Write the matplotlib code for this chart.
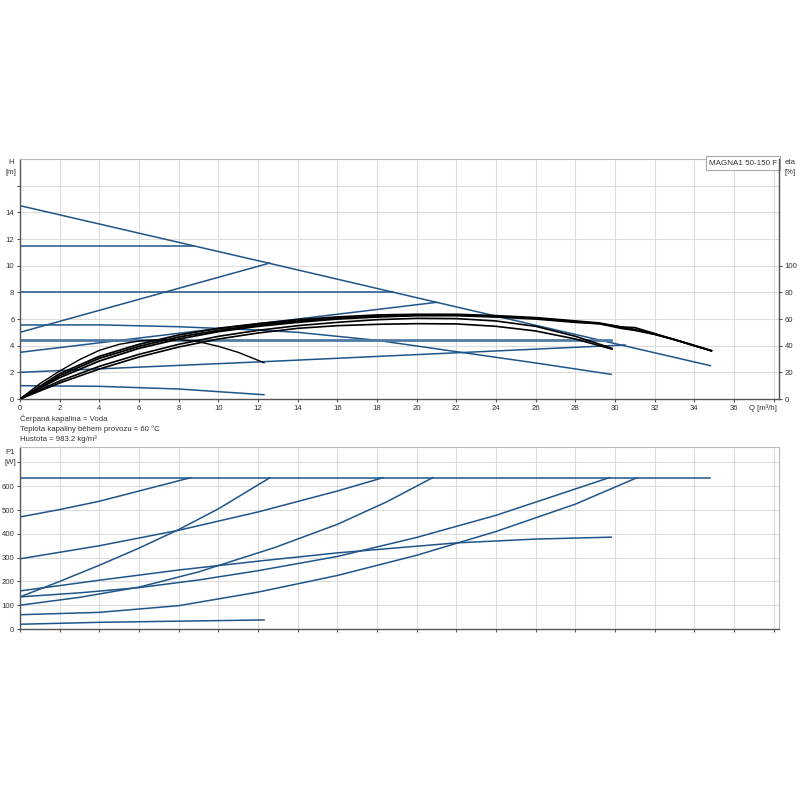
import matplotlib
matplotlib.use("Agg")

import matplotlib.pyplot as plt

plt.rcParams["font.family"] = ["Liberation Sans", "DejaVu Sans"]

# ---- QH curves (blue), Q in m3/h, H in m
q_max = [0, 12.5, 21, 34.8]
h_max = [14.5, 10.2, 7.25, 2.5]

q_cp1 = [0, 8.7]
h_cp1 = [11.5, 11.5]
q_pp1 = [0, 12.6]
h_pp1 = [5.0, 10.2]
q_cp2 = [0, 18.8]
h_cp2 = [8.0, 8.0]
q_pp2 = [0, 21]
h_pp2 = [3.5, 7.25]
q_auto = [0, 4, 8, 12, 14, 18, 22, 26, 29.8]
h_auto = [5.55, 5.56, 5.42, 5.17, 5.0, 4.4, 3.55, 2.7, 1.85]
q_cp3 = [0, 29.8]
h_cp3 = [4.42, 4.42]
q_pp3 = [0, 12.3, 30.5]
h_pp3 = [2.0, 2.8, 4.05]
q_min = [0, 4, 8, 12.3]
h_min = [1.0, 0.95, 0.75, 0.32]

# ---- efficiency curves (black), eta in %
q_e1 = [0, 1, 2, 3, 4, 5, 6, 7, 8, 9, 10, 11, 12.3]
e_e1 = [0, 11.5, 21, 29.5, 36.5, 41, 43.5, 44.5, 44.5, 43, 39.5, 35, 27.2]
q_e2 = [0, 2, 4, 6, 8, 10, 12, 14, 16, 18, 20, 22, 24, 26, 28, 29.84]
e_e2 = [0, 12, 22.5, 31.5, 39, 45, 49.5, 53, 55, 56, 56.5, 56.3, 54.5, 51, 45, 37.4]
e_e3 = [0, 13.5, 24.5, 33.5, 41, 47, 51.5, 55, 57.5, 59.5, 60.5, 60.3, 58.5, 54.5, 47, 38.0]
q_e4 = [0, 2, 4, 6, 8, 10, 12, 14, 16, 18, 20, 22, 24, 26, 28, 29.2, 30.3, 31, 32, 33, 34.85]
e_e4 = [0, 17.5, 30.5, 39.5, 46.5, 51.5, 55.5, 58.5, 60.5, 62, 63, 63, 62, 60.5, 58, 56.5, 54, 52, 48.5, 44.5, 36.2]
e_e5 = [0, 16, 28.5, 38, 45, 50.5, 54.5, 57.5, 60, 61.5, 62.5, 62.5, 61.5, 60, 57.5, 56.5, 53, 51.5, 48.5, 44.5, 36.2]
e_e6 = [0, 19, 32, 41, 48, 53, 56.5, 59.5, 61.5, 63, 63.5, 63.5, 62.5, 61, 58.5, 57, 54, 53.5, 49, 44.5, 36.2]

# ---- P1 curves (blue), W
q_pmax = [0, 34.8]
p_pmax = [636, 636]
q_pa = [0, 2, 4, 6, 8.6]
p_pa = [471, 502, 537, 580, 636]
q_pb = [0, 2, 4, 6, 8, 10, 12.6]
p_pb = [135, 200, 268, 340, 418, 505, 636]
q_pc = [0, 4, 8, 12, 16, 18.3]
p_pc = [295, 350, 415, 492, 580, 636]
q_pd = [0, 3, 6, 9, 12.86, 16, 18.5, 20.8]
p_pd = [100, 133, 176, 240, 343, 440, 535, 636]
q_pe = [0, 4, 8, 12.1, 16, 22, 26, 29.8]
p_pe = [160, 205, 248, 286, 320, 362, 378, 386]
q_pf = [0, 3, 6, 9, 12, 16, 20, 24, 29.7]
p_pf = [135, 152, 174, 206, 245, 305, 385, 478, 636]
q_pg = [0, 4, 8, 12, 16, 20, 24, 28, 31.1]
p_pg = [60, 70, 98, 155, 225, 310, 410, 525, 636]
q_ph = [0, 4, 8, 12.3]
p_ph = [20, 28, 33, 38]

x_ticks = list(range(0, 38, 2))
h_ticks = list(range(0, 16, 2))
eta_ticks = [0, 20, 40, 60, 80, 100]
p_ticks = [0, 100, 200, 300, 400, 500, 600]

info = ["Čerpaná kapalina = Voda",
        "Teplota kapaliny během provozu = 60 °C",
        "Hustota = 983.2 kg/m³"]

blue = "#1f5588"
grid_c = "#dcdcdc"
dark = "#555555"
txt = "#333333"
fs = 5.6

fig = plt.figure(figsize=(8, 8), dpi=100)
ax1 = fig.add_axes([0.025, 0.50125, 0.949, 0.30])
ax2 = fig.add_axes([0.025, 0.21375, 0.949, 0.2275])


def style(ax, ymax, ygrid):
    ax.set_xlim(0, 38.27)
    ax.set_ylim(0, ymax)
    ax.set_xticks(list(range(0, 40, 2)))
    ax.set_yticks(ygrid)
    ax.grid(True, color=grid_c, lw=0.8)
    ax.set_axisbelow(True)
    for s in ["top", "right"]:
        ax.spines[s].set_color("#bbbbbb")
        ax.spines[s].set_linewidth(0.8)
    for s in ["left", "bottom"]:
        ax.spines[s].set_color(dark)
        ax.spines[s].set_linewidth(1.0)
    ax.tick_params(length=2.5, width=0.8, color=dark, labelsize=fs, labelcolor=txt, pad=1.5)


# top chart
style(ax1, 18, list(range(0, 18, 2)))
ax1.set_xticklabels([str(v) if v in x_ticks else "" for v in range(0, 40, 2)])
ax1.set_yticklabels([str(v) if v in h_ticks else "" for v in range(0, 18, 2)])

for q, h in [(q_max, h_max), (q_cp1, h_cp1), (q_pp1, h_pp1), (q_cp2, h_cp2),
             (q_pp2, h_pp2), (q_auto, h_auto), (q_pp3, h_pp3), (q_min, h_min)]:
    ax1.plot(q, h, color=blue, lw=1.1)
ax1.plot(q_cp3, h_cp3, color="#4f7ba3", lw=2.0)

ax_eta = ax1.twinx()
ax_eta.set_ylim(0, 180)
ax_eta.set_yticks(eta_ticks)
ax_eta.tick_params(length=2.5, width=0.8, color=dark, labelsize=fs, labelcolor=txt, pad=1.5)
ax_eta.spines["right"].set_color(dark)
ax_eta.spines["right"].set_linewidth(1.0)
for s in ["top", "left", "bottom"]:
    ax_eta.spines[s].set_visible(False)

ax_eta.plot(q_e1, e_e1, color="black", lw=1.0)
ax_eta.plot(q_e2, e_e2, color="black", lw=1.2)
ax_eta.plot(q_e2, e_e3, color="black", lw=1.2)
ax_eta.plot(q_e4, e_e4, color="black", lw=1.3)
ax_eta.plot(q_e4, e_e5, color="black", lw=1.3)
ax_eta.plot(q_e4, e_e6, color="black", lw=1.3)

ax1.text(0.997, 0.997, "MAGNA1 50-150 F", transform=ax1.transAxes, ha="right", va="top",
         fontsize=fs + 0.2, color=txt, zorder=10,
         bbox=dict(boxstyle="square,pad=0.4", fc="white", ec="#aaaaaa", lw=0.8))

# bottom chart
style(ax2, 765, list(range(0, 800, 100)))
ax2.set_xticklabels([])
ax2.set_yticklabels([str(v) if v in p_ticks else "" for v in range(0, 800, 100)])
for q, p in [(q_pmax, p_pmax), (q_pa, p_pa), (q_pb, p_pb), (q_pc, p_pc), (q_pd, p_pd),
             (q_pe, p_pe), (q_pf, p_pf), (q_pg, p_pg), (q_ph, p_ph)]:
    ax2.plot(q, p, color=blue, lw=1.1)

# axis captions
fig.text(11 / 800, 1 - 163 / 800, "H", fontsize=fs, color=txt, ha="center", va="center")
fig.text(11 / 800, 1 - 173 / 800, "[m]", fontsize=fs, color=txt, ha="center", va="center")
fig.text(790 / 800, 1 - 163 / 800, "eta", fontsize=fs, color=txt, ha="center", va="center")
fig.text(790 / 800, 1 - 173 / 800, "[%]", fontsize=fs, color=txt, ha="center", va="center")
fig.text(763 / 800, 1 - 408 / 800, "Q [m³/h]", fontsize=fs, color=txt, ha="center", va="center")
fig.text(10 / 800, 1 - 453 / 800, "P1", fontsize=fs, color=txt, ha="center", va="center")
fig.text(10 / 800, 1 - 463 / 800, "[W]", fontsize=fs, color=txt, ha="center", va="center")

for i, line in enumerate(info):
    fig.text(20 / 800, 1 - (419 + 10 * i) / 800, line, fontsize=fs, color=txt,
             ha="left", va="center")

plt.savefig("out.png", dpi=100)
